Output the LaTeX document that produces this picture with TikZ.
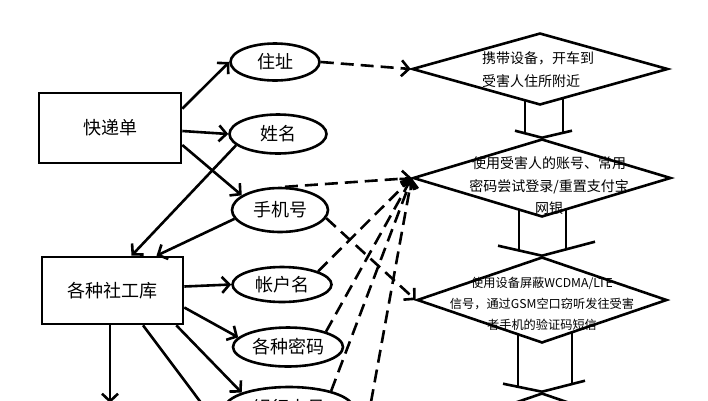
\documentclass[tikz,border=0pt]{standalone}
\usepackage{fontspec}
\setmainfont{Noto Sans CJK SC}
\usetikzlibrary{arrows.meta,shapes.geometric}
\pgfdeclarelayer{bg}
\pgfdeclarelayer{paper}
\pgfsetlayers{paper,bg,main}
\begin{document}
\begin{tikzpicture}[x=1pt,y=-1pt,
  lw/.style={line width=2.6pt},
  box/.style={draw, lw, rectangle, inner sep=0pt, font=\fontsize{18}{20}\selectfont},
  ell/.style={draw, lw, ellipse, inner sep=0pt, font=\fontsize{18}{20}\selectfont},
  dia/.style={draw, lw, diamond, inner sep=0pt, fill=white},
  dtext/.style={align=center, inner sep=0pt},
  arr/.style={lw, -{Straight Barb[length=7.5pt,width=16pt]}},
  darr/.style={arr, dash pattern=on 13pt off 7pt},
]
\clip (0,0) rectangle (708,400);
\begin{pgfonlayer}{paper}
\fill[white] (0,0) rectangle (708,400);
\end{pgfonlayer}

% boxes
\node[box, minimum width=142pt, minimum height=70pt] (kd) at (110,128) {快递单};
\node[box, minimum width=141pt, minimum height=67pt] (sg) at (112.5,290.5) {各种社工库};

% ellipses
\node[ell, minimum width=89pt, minimum height=37pt] (zz) at (275,62) {住址};
\node[ell, minimum width=97pt, minimum height=39pt] (xm) at (278,134) {姓名};
\node[ell, minimum width=96pt, minimum height=44pt] (sj) at (280,210) {手机号};
\node[ell, minimum width=99pt, minimum height=35pt] (zh) at (282,284.5) {帐户名};
\node[ell, minimum width=110pt, minimum height=39pt] (mm) at (288,347) {各种密码};
\node[ell, minimum width=128pt, minimum height=42pt] (yh) at (289,408) {银行卡号};

% diamonds
\node[dia, minimum width=256pt, minimum height=72pt] (d1) at (540,69) {};
\node[dia, minimum width=258pt, minimum height=78pt] (d2) at (542,178) {};
\node[dia, minimum width=250pt, minimum height=86pt] (d3) at (542,300) {};
\node[dia, minimum width=250pt, minimum height=86pt] (d4) at (542,436) {};

\node[dtext, align=left, font=\fontsize{14}{23}\selectfont] (t1) at (538,70) {携带设备，开车到\\受害人住所附近};
\node[dtext, font=\fontsize{14}{22.5}\selectfont] (t2) at (549,186) {使用受害人的账号、常用\\密码尝试登录/重置支付宝\\网银};
\node[dtext, font=\fontsize{12.2}{21}\selectfont] (t3) at (542,304) {使用设备屏蔽WCDMA/LTE\\信号，通过GSM空口窃听发往受害\\者手机的验证码短信};

% off-picture ends
\coordinate (c1) at (208,412);
\coordinate (c2) at (110,403);
\coordinate (c3) at (371,402);

\begin{pgfonlayer}{bg}
% solid connectors
\draw[arr] ([yshift=-17pt]kd.north east) -- (zz.west);
\draw[arr] ([yshift=-3pt]kd.east) -- (xm.west);
\draw[arr] ([yshift=-17pt]kd.east) -- (sj.159);
\draw[arr] (xm.195) -- ([xshift=19pt]sg.north);
\draw[arr] (sj.191) -- ([xshift=44pt]sg.north);
\draw[arr] ([yshift=4pt]sg.east) -- (zh.west);
\draw[arr] ([yshift=-17pt]sg.east) -- (mm.169);
\draw[arr] ([xshift=-8pt]sg.south east) -- (yh.162);
\draw[lw] ([xshift=30.5pt]sg.south) -- (c1);
\draw[arr] ([xshift=-2.5pt]sg.south) -- (c2);

% dashed connectors
\draw[darr] (zz.east) -- (d1.west);
\draw[darr] (sj.78) -- (d2.west);
\draw[darr] (sj.-10) -- (d3.west);
\draw[darr] (zh.20) -- (d2.west);
\draw[darr] (mm.22) -- (d2.west);
\draw[darr] (yh.22) -- (d2.west);
\draw[darr] (c3) -- (d2.west);

% block arrows between diamonds
\draw[lw] ([shift={(-17pt,50pt)}]d2.north) -- ([shift={(-17pt,4.5pt)}]d2.north);
\draw[lw] ([shift={(21pt,50pt)}]d2.north) -- ([shift={(21pt,5pt)}]d2.north);
\draw[lw] ([shift={(-27pt,7pt)}]d2.north) -- (d2.north) -- ([shift={(30pt,7pt)}]d2.north);

\draw[lw] ([shift={(-23pt,60pt)}]d3.north) -- ([shift={(-23pt,5pt)}]d3.north);
\draw[lw] ([shift={(24pt,60pt)}]d3.north) -- ([shift={(24pt,6pt)}]d3.north);
\draw[lw] ([shift={(-44pt,10pt)}]d3.north) -- (d3.north) -- ([shift={(53pt,14pt)}]d3.north);

\draw[lw] ([shift={(-24pt,70pt)}]d4.north) -- ([shift={(-24pt,5pt)}]d4.north);
\draw[lw] ([shift={(30pt,70pt)}]d4.north) -- ([shift={(30pt,8pt)}]d4.north);
\draw[lw] ([shift={(-39pt,8pt)}]d4.north) -- (d4.north) -- ([shift={(43pt,11pt)}]d4.north);
\end{pgfonlayer}
\end{tikzpicture}
\end{document}
